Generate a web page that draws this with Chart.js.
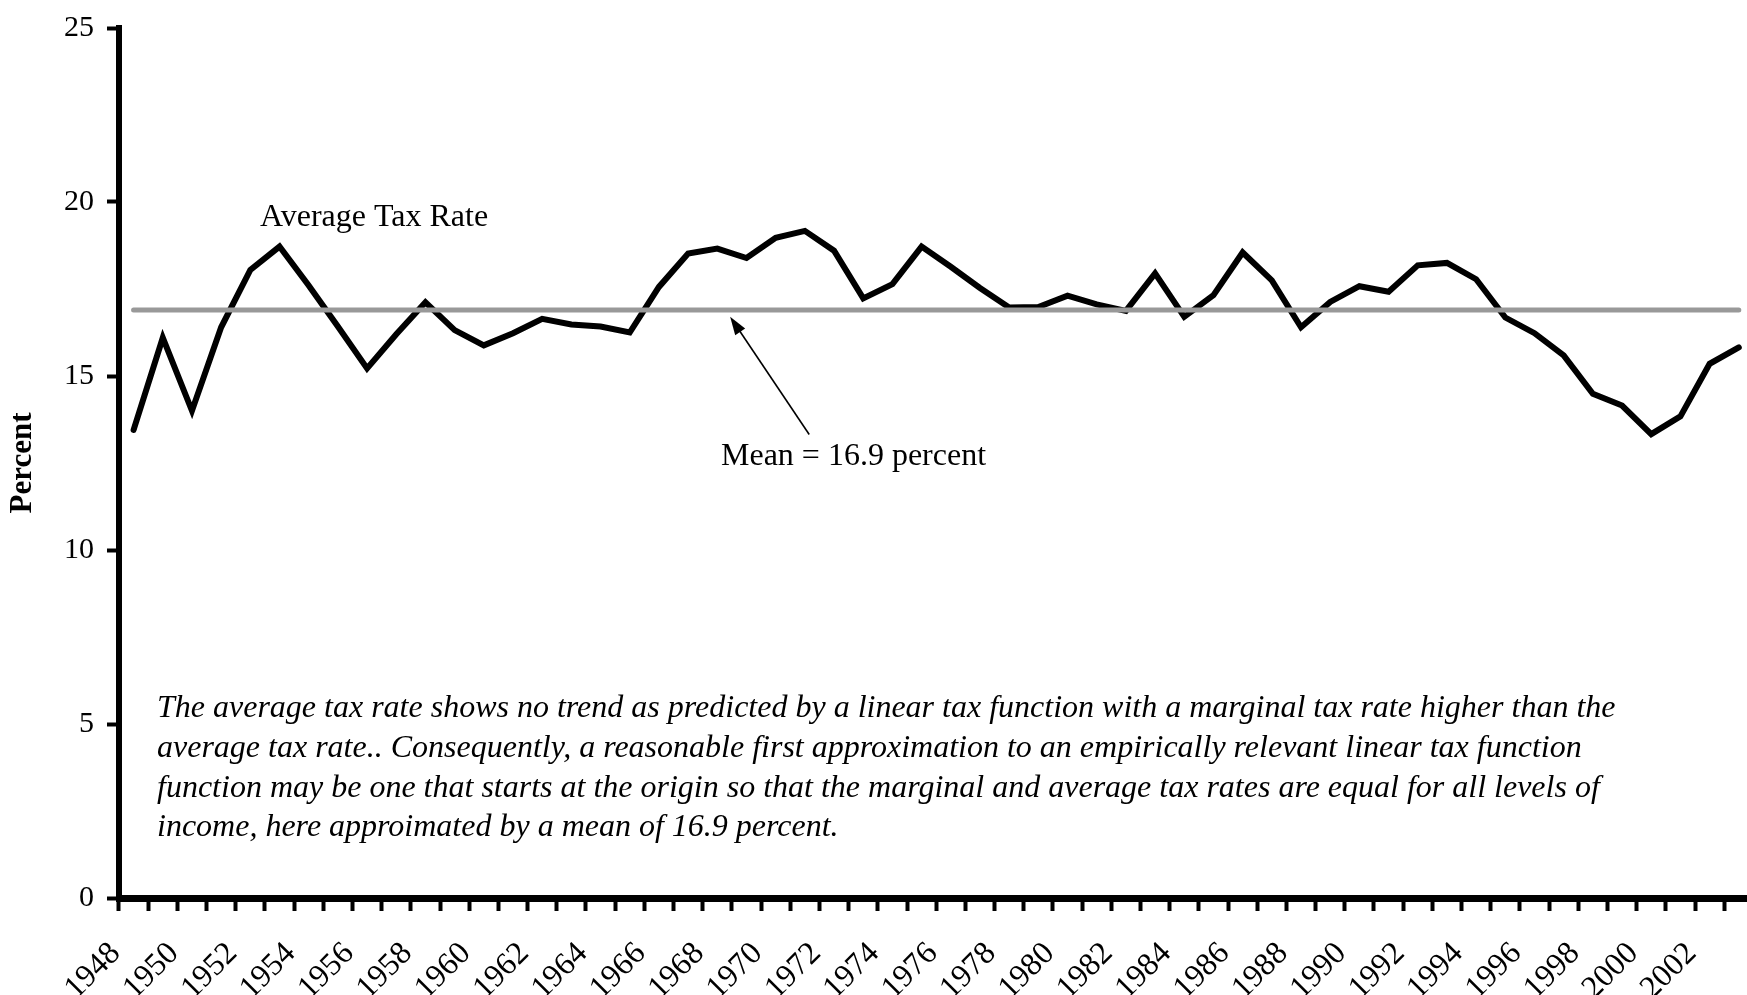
<!DOCTYPE html>
<html>
<head>
<meta charset="utf-8">
<script src="https://cdn.jsdelivr.net/npm/chart.js@4.4.1/dist/chart.umd.min.js"></script>
<style>
  html, body { margin: 0; padding: 0; background: #fff; overflow: hidden; }
  #wrap { width: 1790px; height: 995px; position: relative; }
</style>
</head>
<body>
<div id="wrap"><canvas id="chart"></canvas></div>
<script>
const years = [
  '1948', '1949', '1950', '1951', '1952', '1953', '1954', '1955', '1956', '1957',
  '1958', '1959', '1960', '1961', '1962', '1963', '1964', '1965', '1966', '1967',
  '1968', '1969', '1970', '1971', '1972', '1973', '1974', '1975', '1976', '1977',
  '1978', '1979', '1980', '1981', '1982', '1983', '1984', '1985', '1986', '1987',
  '1988', '1989', '1990', '1991', '1992', '1993', '1994', '1995', '1996', '1997',
  '1998', '1999', '2000', '2001', '2002', '2003'
];

// average tax rate, percent
const taxRate = [
  13.45, 16.1, 14.0, 16.4, 18.05, 18.72, 17.6, 16.42, 15.22, 16.2,
  17.12, 16.32, 15.88, 16.23, 16.64, 16.48, 16.42, 16.25, 17.56, 18.52,
  18.66, 18.39, 18.97, 19.17, 18.6, 17.23, 17.64, 18.72, 18.14, 17.53,
  16.97, 16.98, 17.31, 17.06, 16.87, 17.95, 16.7, 17.32, 18.55, 17.75,
  16.4, 17.13, 17.58, 17.42, 18.18, 18.25, 17.78, 16.68, 16.23, 15.59,
  14.49, 14.15, 13.33, 13.84, 15.35, 15.82
];

const meanRate = 16.9;
const yTicks = [0, 5, 10, 15, 20, 25];

const noteLines = [
  'The average tax rate shows no trend as predicted by a linear tax function with a marginal tax rate higher than the',
  'average tax rate.. Consequently, a reasonable first approximation to an empirically relevant linear tax function',
  'function may be one that starts at the origin so that the marginal and average tax rates are equal for all levels of',
  'income, here approimated by a mean of 16.9 percent.'
];

const serif = '"Liberation Serif", "Times New Roman", serif';

// text labels, arrow and note drawn on top of the chart
const annotations = {
  id: 'annotations',
  afterDraw(chart) {
    const ctx = chart.ctx;
    const x = chart.scales.x;
    const y = chart.scales.y;
    ctx.save();
    ctx.fillStyle = '#000';
    ctx.strokeStyle = '#000';
    ctx.textBaseline = 'alphabetic';
    ctx.textAlign = 'left';

    ctx.font = '32px ' + serif;
    ctx.fillText('Average Tax Rate', 260, 226);
    ctx.fillText('Mean = 16.9 percent', 721, 465);

    // arrow pointing at the mean line
    const tipX = x.getPixelForValue(20.44), tipY = y.getPixelForValue(16.7);
    const tailX = x.getPixelForValue(23.15), tailY = y.getPixelForValue(13.32);
    const ang = Math.atan2(tipY - tailY, tipX - tailX);
    const headLen = 18, headW = 6;
    ctx.lineWidth = 1.6;
    ctx.beginPath();
    ctx.moveTo(tailX, tailY);
    ctx.lineTo(tipX - Math.cos(ang) * headLen * 0.8, tipY - Math.sin(ang) * headLen * 0.8);
    ctx.stroke();
    ctx.beginPath();
    ctx.moveTo(tipX, tipY);
    ctx.lineTo(tipX - Math.cos(ang) * headLen + Math.sin(ang) * headW, tipY - Math.sin(ang) * headLen - Math.cos(ang) * headW);
    ctx.lineTo(tipX - Math.cos(ang) * headLen - Math.sin(ang) * headW, tipY - Math.sin(ang) * headLen + Math.cos(ang) * headW);
    ctx.closePath();
    ctx.fill();

    ctx.font = 'italic 32px ' + serif;
    noteLines.forEach((line, i) => {
      ctx.fillText(line, 157, 717 + i * 39.8);
    });
    ctx.restore();
  }
};

new Chart(document.getElementById('chart'), {
  type: 'line',
  data: {
    labels: years,
    datasets: [
      {
        label: 'Mean',
        data: years.map(() => meanRate),
        borderColor: '#999999',
        borderWidth: 5,
        borderCapStyle: 'round',
        pointRadius: 0,
        order: 0
      },
      {
        label: 'Average Tax Rate',
        data: taxRate,
        borderColor: '#000000',
        borderWidth: 6,
        borderCapStyle: 'round',
        borderJoinStyle: 'miter',
        tension: 0,
        pointRadius: 0,
        order: 1
      }
    ]
  },
  options: {
    responsive: true,
    maintainAspectRatio: false,
    animation: false,
    layout: { padding: { top: 12, right: 5, left: 0, bottom: 0 } },
    plugins: {
      legend: { display: false },
      tooltip: { enabled: false }
    },
    scales: {
      x: {
        offset: true,
        afterFit: (scale) => { scale.height = 97; },
        border: { display: true, color: '#000', width: 7 },
        grid: {
          offset: true,
          drawOnChartArea: false,
          drawTicks: true,
          tickLength: 13,
          tickWidth: 4,
          tickColor: '#000',
          color: '#000'
        },
        ticks: {
          autoSkip: false,
          minRotation: 45,
          maxRotation: 45,
          labelOffset: -18,
          padding: 24,
          color: '#000',
          font: { family: serif, size: 32 },
          callback: function(val, i) { return i % 2 === 0 ? this.getLabelForValue(val) : ''; }
        }
      },
      y: {
        min: 0,
        max: 25,
        afterFit: (scale) => { scale.width = 119; },
        afterBuildTicks: (scale) => { scale.ticks = yTicks.map(v => ({ value: v })); },
        border: { display: true, color: '#000', width: 6 },
        grid: {
          drawOnChartArea: false,
          drawTicks: true,
          tickLength: 12,
          tickWidth: 4,
          tickColor: '#000',
          color: '#000'
        },
        ticks: {
          padding: 13,
          color: '#000',
          font: { family: serif, size: 30, lineHeight: 1 }
        },
        title: {
          display: true,
          text: 'Percent',
          color: '#000',
          padding: { top: 4, bottom: 0 },
          font: { family: serif, size: 31, weight: 'bold' }
        }
      }
    }
  },
  plugins: [annotations]
});
</script>
</body>
</html>
